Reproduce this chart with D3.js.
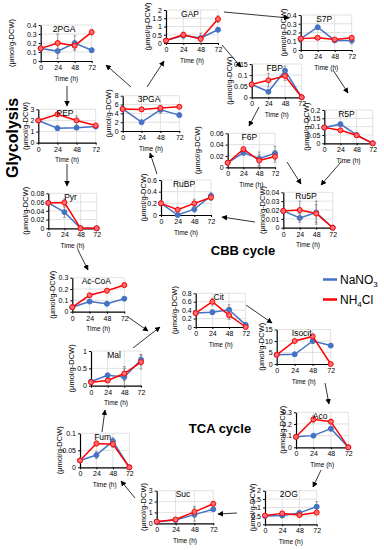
<!DOCTYPE html>
<html>
<head>
<meta charset="utf-8">
<script src="https://cdn.jsdelivr.net/npm/d3@7"></script>
<style>
  body { margin: 0; background: #fff; }
  svg { display: block; font-family: Arial, "Liberation Sans", sans-serif; }
</style>
</head>
<body>
<svg id="chart" width="384" height="550"></svg>
<script>
// sampling times (h)
const times = [0, 24, 48, 72];

const metabolites = ["2PGA", "GAP", "S7P", "PEP", "3PGA", "FBP", "R5P", "F6P", "RuBP", "Pyr",
  "Ru5P", "Ac-CoA", "Cit", "Isocit", "Mal", "Aco", "Fum", "Suc", "2OG"];
const yMax  = [0.4, 2, 0.4, 3, 8, 0.15, 0.2, 0.06, 0.6, 0.08, 0.04, 0.3, 0.8, 15, 1, 0.3, 0.1, 3, 2];
const yStep = [0.1, 0.5, 0.1, 1, 2, 0.05, 0.05, 0.02, 0.2, 0.02, 0.01, 0.1, 0.2, 5, 0.5, 0.1, 0.05, 1, 0.5];

// umol/g-DCW, one row per metabolite
const nano3 = [
  [0.14, 0.11, 0.20, 0.12], [0.15, 0.45, 0.30, 0.80], [0.13, 0.26, 0.11, 0.11],
  [2.0, 1.3, 1.35, 1.45], [5.0, 2.0, 4.8, 3.6], [0.058, 0.025, 0.12, 0],
  [0.095, 0.115, 0.05, 0], [0.008, 0.026, 0.015, 0.025], [0.2, 0.0, 0.1, 0.33],
  [0.058, 0.037, 0, 0], [0.019, 0.011, 0.017, 0], [0.04, 0.09, 0.07, 0.115],
  [0.33, 0.35, 0.41, 0.05], [4, 4.2, 10, 8], [0.12, 0.3, 0.25, 0.75],
  [0.09, 0.1, 0.16, 0], [0.02, 0.036, 0.077, 0], [0.15, 0.3, 0.8, 1.3], [0.5, 0.52, 0.68, 1.05]
];
const nh4cl = [
  [0.14, 0.2, 0.17, 0.32], [0.15, 0.5, 0.25, 1.45], [0.13, 0.14, 0.12, 0.14],
  [2.0, 2.55, 2.0, 1.55], [5.0, 4.9, 5.2, 5.5], [0.058, 0.077, 0.096, 0],
  [0.095, 0.078, 0.048, 0], [0.008, 0.032, 0.012, 0.019], [0.2, 0.09, 0.2, 0.3],
  [0.058, 0.059, 0, 0], [0.019, 0.02, 0.016, 0], [0.04, 0.145, 0.185, 0.235],
  [0.33, 0.6, 0.28, 0], [4, 10, 12, 0], [0.1, 0.15, 0.35, 0.68],
  [0.09, 0.24, 0.22, 0], [0.02, 0.07, 0.068, 0], [0.15, 0.35, 1.05, 1.8], [0.52, 0.65, 0.55, 0.7]
];
const nano3Err = [
  [0.02, 0.08, 0.08, 0.02], [0.05, 0.2, 0.3, 0.1], [0.01, 0.02, 0.01, 0.04],
  [0.05, 0.2, 0.15, 0.1], [0.2, 0.3, 0.8, 0.4], [0.005, 0.005, 0.02, 0],
  [0.005, 0.01, 0.005, 0], [0.002, 0.005, 0.012, 0.012], [0.02, 0.02, 0.05, 0.05],
  [0.003, 0.012, 0, 0], [0.002, 0.005, 0.013, 0], [0.005, 0.01, 0.01, 0.01],
  [0.03, 0.05, 0.12, 0.03], [0.5, 0.5, 1, 0.5], [0.03, 0.05, 0.25, 0.15],
  [0.01, 0.01, 0.02, 0], [0.003, 0.01, 0.01, 0], [0.03, 0.05, 0.6, 0.15], [0.05, 0.05, 0.1, 0.3]
];
const nh4clErr = [
  [0.02, 0.1, 0.05, 0.03], [0.05, 0.15, 0.1, 0.2], [0.01, 0.02, 0.01, 0.02],
  [0.05, 0.1, 0.4, 0.1], [0.2, 0.3, 0.6, 0.3], [0.005, 0.03, 0.02, 0],
  [0.005, 0.005, 0.005, 0], [0.002, 0.004, 0.01, 0.01], [0.02, 0.02, 0.07, 0.05],
  [0.003, 0.008, 0, 0], [0.002, 0.01, 0.01, 0], [0.005, 0.01, 0.01, 0.02],
  [0.03, 0.08, 0.1, 0], [0.5, 0.5, 1, 0], [0.03, 0.05, 0.2, 0.2],
  [0.01, 0.03, 0.02, 0], [0.003, 0.007, 0.01, 0], [0.03, 0.05, 0.5, 0.1], [0.05, 0.1, 0.1, 0.1]
];

// plot boxes: left, top, right, bottom, y-label offset
const boxes = [
  [40.7, 25, 91.7, 61, -29], [166, 10, 218, 43, -19], [300.7, 15, 351.7, 50, -17],
  [38.3, 109.3, 95.7, 142.7, -13], [122.7, 95.7, 179.3, 131, -14], [251.7, 64, 301.7, 97.3, -22],
  [324.3, 110, 372.7, 143.3, -18], [227.7, 133.3, 275, 167.3, -30], [161, 180, 211, 215, -18],
  [48.3, 193.3, 96.7, 228.3, -23], [283.3, 192.3, 332.7, 227.7, -21], [72.3, 277.7, 124.3, 311.7, -20],
  [195.7, 293.3, 245.7, 327, -21], [276.7, 329.5, 330.7, 364, -15], [91, 351, 141, 385.7, -20],
  [296, 412.3, 348.3, 447.3, -14], [80, 433.3, 129.3, 467.3, -21], [156.7, 490.7, 213.3, 523.3, -13],
  [265, 490.7, 316.7, 524.3, -13]
];

// pathway arrows: x1, y1, x2, y2
const arrows = [
  [131, 87, 106, 65], [147, 87, 164, 61], [67, 86, 67, 106], [67, 164, 67, 186],
  [157, 174, 150, 153], [224, 12, 289, 18], [222, 45, 241, 67], [333, 70, 348, 93],
  [259, 107, 249, 126], [287, 162, 301, 184], [341, 162, 321, 185], [255, 222, 222, 217],
  [78, 250, 88, 270], [128, 317, 148, 331], [133, 348, 160, 327], [246, 305, 272, 323],
  [325, 383, 329, 404], [321, 470, 313, 487], [237, 513, 218, 514], [135, 498, 121, 481],
  [102, 432, 105, 410]
];

const blue = "#4472c4", red = "#ff0000";
const svg = d3.select("#chart");

svg.append("defs").append("marker")
  .attr("id", "ah").attr("viewBox", "0 0 10 10")
  .attr("refX", 9).attr("refY", 5)
  .attr("markerWidth", 7).attr("markerHeight", 7)
  .attr("orient", "auto")
  .append("path").attr("d", "M0,0L10,5L0,10z").attr("fill", "#000");

svg.append("g").selectAll("line").data(arrows).join("line")
  .attr("x1", d => d[0]).attr("y1", d => d[1])
  .attr("x2", d => d[2]).attr("y2", d => d[3])
  .attr("stroke", "#000").attr("stroke-width", 0.8)
  .attr("marker-end", "url(#ah)");

metabolites.forEach(function(name, i) {
  const [l, t, r, b, lo] = boxes[i];
  const x = d3.scaleLinear().domain([0, 72]).range([l, r]);
  const y = d3.scaleLinear().domain([0, yMax[i]]).range([b, t]);
  const ticks = d3.range(0, yMax[i] + yStep[i] / 2, yStep[i]).map(v => +v.toFixed(4));
  const g = svg.append("g");

  g.append("rect").attr("x", l).attr("y", t).attr("width", r - l).attr("height", b - t).attr("fill", "#fff");

  g.selectAll(".hg").data(ticks.slice(1)).join("line").attr("class", "hg")
    .attr("x1", l).attr("x2", r).attr("y1", d => y(d)).attr("y2", d => y(d))
    .attr("stroke", "#d9d9d9").attr("stroke-width", 0.8);
  g.selectAll(".vg").data(times.slice(1)).join("line").attr("class", "vg")
    .attr("x1", d => x(d)).attr("x2", d => x(d)).attr("y1", t).attr("y2", b)
    .attr("stroke", "#d9d9d9").attr("stroke-width", 0.8);

  const ya = g.append("g").attr("transform", "translate(" + l + ",0)")
    .call(d3.axisLeft(y).tickValues(ticks).tickSize(2).tickSizeOuter(0).tickPadding(2).tickFormat(d3.format("~g")));
  const xa = g.append("g").attr("transform", "translate(0," + b + ")")
    .call(d3.axisBottom(x).tickValues(times).tickSize(2).tickSizeOuter(0).tickPadding(2));
  [ya, xa].forEach(function(a) {
    a.attr("font-family", null).attr("font-size", 7);
    a.select(".domain").attr("stroke", "#000").attr("stroke-width", 1.2);
    a.selectAll(".tick line").attr("stroke", "#000");
    a.selectAll("text").attr("fill", "#000");
  });

  [[nano3, nano3Err, blue, blue], [nh4cl, nh4clErr, red, "#ff7070"]].forEach(function([vals, errs, c, fillC]) {
    const v = vals[i], e = errs[i];
    g.append("g").selectAll("path").data(v).join("path")
      .attr("d", function(d, k) {
        if (!e[k]) return null;
        const cx = x(times[k]), y1 = y(d + e[k]), y2 = y(Math.max(0, d - e[k]));
        return "M" + cx + "," + y1 + "V" + y2 + "M" + (cx - 1.5) + "," + y1 + "H" + (cx + 1.5) +
          "M" + (cx - 1.5) + "," + y2 + "H" + (cx + 1.5);
      })
      .attr("stroke", "#808080").attr("stroke-width", 0.7).attr("fill", "none");
    g.append("path").datum(v)
      .attr("d", d3.line().x((d, k) => x(times[k])).y(d => y(d)))
      .attr("fill", "none").attr("stroke", c).attr("stroke-width", 1.5);
    g.append("g").selectAll("circle").data(v).join("circle")
      .attr("cx", (d, k) => x(times[k])).attr("cy", d => y(d))
      .attr("r", 2.5).attr("fill", fillC).attr("stroke", c).attr("stroke-width", 1);
  });

  g.append("text").attr("x", (l + r) / 2 - 2).attr("y", t + 6.5)
    .attr("text-anchor", "middle").attr("font-size", 8.5).text(name);
  g.append("text").attr("x", (l + r) / 2).attr("y", b + 19.5)
    .attr("text-anchor", "middle").attr("font-size", 6.5).text("Time (h)");
  g.append("text")
    .attr("transform", "translate(" + (l + lo) + "," + ((t + b) / 2) + ") rotate(-90)")
    .attr("text-anchor", "middle").attr("dominant-baseline", "central")
    .attr("font-size", 7.5).text("(μmol/g-DCW)");
});

// pathway names
svg.append("text").attr("transform", "translate(12,138) rotate(-90)")
  .attr("text-anchor", "middle").attr("dominant-baseline", "central")
  .attr("font-size", 16).attr("font-weight", "bold").text("Glycolysis");
svg.append("text").attr("x", 243).attr("y", 255)
  .attr("text-anchor", "middle").attr("font-size", 13).attr("font-weight", "bold").text("CBB cycle");
svg.append("text").attr("x", 220).attr("y", 433)
  .attr("text-anchor", "middle").attr("font-size", 13).attr("font-weight", "bold").text("TCA cycle");

// legend
const leg = svg.append("g");
[[blue, 279.5], [red, 299.5]].forEach(function([c, ly]) {
  leg.append("line").attr("x1", 323).attr("x2", 337).attr("y1", ly).attr("y2", ly)
    .attr("stroke", c).attr("stroke-width", 2.5);
});
const t1 = leg.append("text").attr("x", 340).attr("y", 284).attr("font-size", 12);
t1.append("tspan").text("NaNO");
t1.append("tspan").attr("font-size", 8).attr("dy", 3).text("3");
const t2 = leg.append("text").attr("x", 340).attr("y", 304).attr("font-size", 12);
t2.append("tspan").text("NH");
t2.append("tspan").attr("font-size", 8).attr("dy", 3).text("4");
t2.append("tspan").attr("dy", -3).text("Cl");
</script>
</body>
</html>
